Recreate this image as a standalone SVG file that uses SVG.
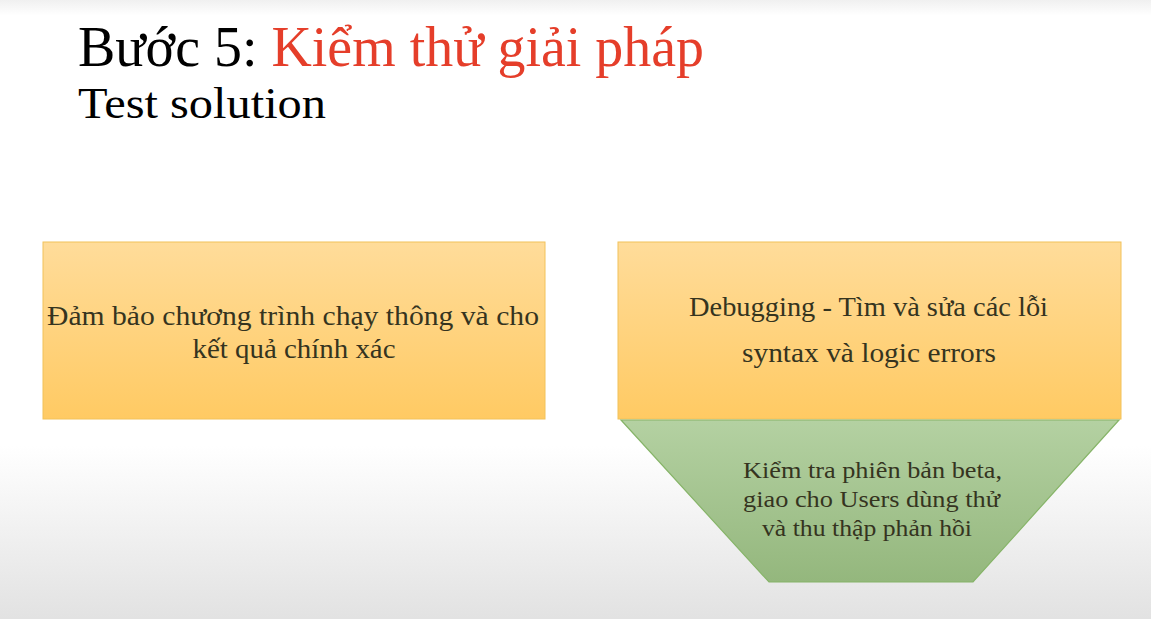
<svg xmlns="http://www.w3.org/2000/svg" width="1151" height="619" viewBox="0 0 1151 619">
<defs>
<linearGradient id="bg" x1="0" y1="0" x2="0" y2="1">
<stop offset="0" stop-color="#f0f0f0"/>
<stop offset="0.025" stop-color="#ffffff"/>
<stop offset="0.72" stop-color="#ffffff"/>
<stop offset="1" stop-color="#e2e2e2"/>
</linearGradient>
<linearGradient id="orange" x1="0" y1="0" x2="0" y2="1">
<stop offset="0" stop-color="#ffdc9a"/>
<stop offset="1" stop-color="#ffca63"/>
</linearGradient>
<linearGradient id="green" x1="0" y1="0" x2="0" y2="1">
<stop offset="0" stop-color="#b4d1a2"/>
<stop offset="1" stop-color="#94b77d"/>
</linearGradient>
<style>
.title{font-family:"Liberation Serif","Times New Roman",serif;fill:#000}
.h1{font-size:58px}
.h2{font-size:45px}
.red{fill:#e53e2a}
.box{fill:url(#orange);stroke:#f2c25a;stroke-width:1}
.trap{fill:url(#green);stroke:#86b468;stroke-width:1.2}
.t{font-family:"Liberation Serif","Times New Roman",serif;fill:#35341f;text-anchor:middle}
.l{font-size:27px}
.s{font-size:23px}
</style>
</defs>
<rect x="0" y="0" width="1151" height="619" fill="url(#bg)"/>
<g id="title">
<text class="title h1" x="78" y="66" textLength="626" lengthAdjust="spacingAndGlyphs">Bước 5: <tspan class="red">Kiểm thử giải pháp</tspan></text>
<text class="title h2" x="78" y="118" textLength="248" lengthAdjust="spacingAndGlyphs">Test solution</text>
</g>
<g id="node-left">
<rect class="box" x="43" y="242" width="502" height="177"/>
<text class="t l" x="293" y="325" textLength="492" lengthAdjust="spacingAndGlyphs">Đảm bảo chương trình chạy  thông và cho</text>
<text class="t l" x="294" y="358" textLength="203" lengthAdjust="spacingAndGlyphs">kết quả chính xác</text>
</g>
<g id="node-debug">
<rect class="box" x="618" y="242" width="503" height="177"/>
<text class="t l" x="868.5" y="316" textLength="359" lengthAdjust="spacingAndGlyphs">Debugging - Tìm và sửa các lỗi</text>
<text class="t l" x="869" y="362" textLength="254" lengthAdjust="spacingAndGlyphs">syntax và logic errors</text>
</g>
<g id="node-beta">
<polygon class="trap" points="621,420 1119,420 973,582 769,582"/>
<text class="t s" x="872.5" y="478" textLength="259" lengthAdjust="spacingAndGlyphs">Kiểm tra phiên bản beta,</text>
<text class="t s" x="871.5" y="507" textLength="257" lengthAdjust="spacingAndGlyphs">giao cho Users dùng thử</text>
<text class="t s" x="867" y="536" textLength="210" lengthAdjust="spacingAndGlyphs">và thu thập phản hồi</text>
</g>
<g id="connectors"/>
</svg>
